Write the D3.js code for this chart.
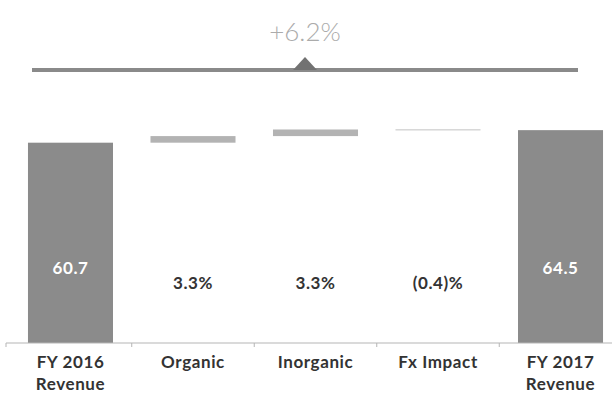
<!DOCTYPE html>
<html>
<head>
<meta charset="utf-8">
<script src="https://cdn.jsdelivr.net/npm/d3@7"></script>
<style>
  html, body { margin: 0; padding: 0; background: #fff; }
  svg { display: block; }
</style>
</head>
<body>
<svg id="chart" width="616" height="395"></svg>
<script>
// Revenue bridge FY2016 -> FY2017
const categories = ["FY 2016|Revenue", "Organic", "Inorganic", "Fx Impact", "FY 2017|Revenue"];
const kinds = ["total", "delta", "delta", "delta", "total"];
const values = [60.7, 2.0, 2.0, -0.2, 64.5];
const valueLabels = ["60.7", "3.3%", "3.3%", "(0.4)%", "64.5"];
const growthLabel = "+6.2%";

const svg = d3.select("#chart");
const font = "Lato, 'Open Sans', 'DejaVu Sans', sans-serif";

const x = d3.scaleBand().domain(categories).range([9.6, 621.4]).paddingInner(0.306).paddingOuter(0.15);
const y = d3.scaleLinear().domain([0, 70]).range([343, 112]);

// waterfall segments: totals start at zero, deltas float on the running sum
let running = 0;
const segs = categories.map((c, i) => {
  let lo, hi;
  if (kinds[i] === "total") { lo = 0; hi = values[i]; running = values[i]; }
  else { const start = running; running += values[i]; lo = Math.min(start, running); hi = Math.max(start, running); }
  return { c, kind: kinds[i], lo, hi, label: valueLabels[i] };
});

svg.append("g").selectAll("rect").data(segs).join("rect")
  .attr("x", d => x(d.c))
  .attr("width", x.bandwidth())
  .attr("y", d => y(d.hi))
  .attr("height", d => Math.max(0.8, y(d.lo) - y(d.hi)))
  .attr("fill", d => d.kind === "total" ? "#8b8b8b" : "#b3b3b3");

// category axis with ticks between categories
const axisG = svg.append("g").attr("transform", "translate(0,343)");
const axisLeft = 6, axisRight = 612;
axisG.append("line").attr("x1", axisLeft).attr("x2", axisRight).attr("stroke", "#b5b5b5").attr("stroke-width", 1);
const gap = x.step() - x.bandwidth();
const bounds = [axisLeft].concat(categories.slice(1).map(c => x(c) - gap / 2));
axisG.selectAll("line.tick").data(bounds).join("line").attr("class", "tick")
  .attr("x1", d => d).attr("x2", d => d).attr("y1", 0).attr("y2", 4)
  .attr("stroke", "#b5b5b5").attr("stroke-width", 1);

const labels = svg.append("g").selectAll("text").data(categories).join("text")
  .attr("x", d => x(d) + x.bandwidth() / 2)
  .attr("y", 368)
  .attr("text-anchor", "middle")
  .attr("font-family", font).attr("font-weight", "bold").attr("font-size", 17)
  .attr("letter-spacing", 0.6)
  .attr("fill", "#333");
labels.each(function(d) {
  const parts = d.split("|");
  d3.select(this).selectAll("tspan").data(parts).join("tspan")
    .attr("x", x(d) + x.bandwidth() / 2)
    .attr("dy", (p, i) => i === 0 ? 0 : 22)
    .text(p => p);
});

// value labels
svg.append("g").selectAll("text").data(segs).join("text")
  .attr("x", d => x(d.c) + x.bandwidth() / 2)
  .attr("y", d => d.kind === "total" ? 274 : 289)
  .attr("text-anchor", "middle")
  .attr("font-family", font).attr("font-weight", "bold").attr("font-size", 17)
  .attr("letter-spacing", 0.6)
  .attr("fill", d => d.kind === "total" ? "#fff" : "#333")
  .text(d => d.label);

// overall growth bracket
const gx0 = 32, gx1 = 578, gy = 70, gc = (gx0 + gx1) / 2;
svg.append("line").attr("x1", gx0).attr("x2", gx1).attr("y1", gy).attr("y2", gy)
  .attr("stroke", "#8a8a8a").attr("stroke-width", 4);
svg.append("path")
  .attr("d", d3.line()([[gc - 12, gy], [gc, gy - 13], [gc + 12, gy]]) + "Z")
  .attr("fill", "#727272");
svg.append("text").attr("x", gc).attr("y", 41).attr("text-anchor", "middle")
  .attr("font-family", font).attr("font-weight", 300).attr("font-size", 26)
  .attr("fill", "#ababab").text(growthLabel);
</script>
</body>
</html>
